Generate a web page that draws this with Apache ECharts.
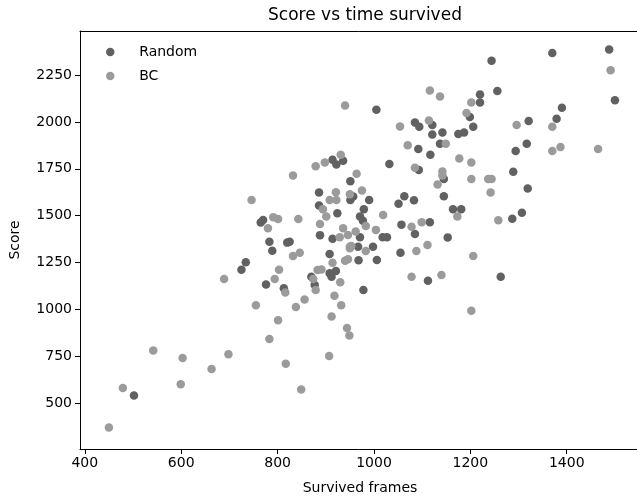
<!DOCTYPE html>
<html>
<head>
    <meta charset="utf-8">
    <title>Score vs time survived</title>
    <script src="https://cdn.jsdelivr.net/npm/echarts@6/dist/echarts.min.js"></script>
    <style>
        body { margin: 0; background: #fff; }
    </style>
</head>
<body>

<div id='scatter' style="width: 637px; height: 500px;"></div>
<script type="text/javascript">
    // [survived frames, score]
    var randomData = [
        [502, 540], [725, 1211], [734, 1251], [776, 1133], [789, 1313], [783, 1361],
        [820, 1356], [825, 1361], [813, 1112], [870, 1174], [877, 1130], [886, 1623],
        [886, 1554], [765, 1463], [770, 1477], [888, 1396], [1005, 2065], [1244, 2326],
        [1370, 2367], [1488, 2386], [1500, 2115], [1256, 2165], [1220, 2146], [1220, 2104],
        [1199, 2026], [1206, 1974], [1187, 1944], [1175, 1935], [1390, 2076], [1379, 2017],
        [1321, 2005], [1317, 1884], [1294, 1845], [1289, 1734], [1319, 1645], [1307, 1515],
        [1287, 1484], [1085, 1997], [1094, 1974], [1121, 1984], [1121, 1933], [1142, 1944],
        [1137, 1884], [1092, 1855], [1117, 1825], [1032, 1775], [1093, 1744], [1145, 1695],
        [1145, 1604], [1164, 1534], [1181, 1534], [1153, 1384], [1116, 1465], [1085, 1402],
        [1057, 1452], [1051, 1564], [1063, 1604], [1083, 1582], [914, 1798], [922, 1773],
        [936, 1793], [951, 1684], [957, 1602], [990, 1584], [951, 1584], [924, 1513],
        [979, 1534], [971, 1495], [977, 1473], [914, 1377], [971, 1385], [1018, 1385],
        [1027, 1385], [998, 1334], [908, 1295], [967, 1334], [968, 1262], [1006, 1263],
        [1055, 1302], [1263, 1174], [1112, 1153], [908, 1192], [921, 1204], [912, 1174],
        [978, 1103]
    ];
    var bcData = [
        [450, 370], [479, 580], [542, 780], [603, 741], [599, 600], [663, 682],
        [698, 760], [689, 1162], [755, 1022], [783, 842], [801, 942], [817, 710],
        [849, 572], [794, 1162], [803, 1211], [816, 1090], [838, 1013], [856, 1053],
        [832, 1285], [846, 1302], [874, 1162], [879, 1103], [883, 1210], [891, 1213],
        [746, 1584], [832, 1714], [879, 1764], [780, 1433], [791, 1491], [801, 1482],
        [843, 1482], [888, 1455], [940, 2087], [1491, 2275], [1116, 2167], [1137, 2135],
        [1202, 2104], [1192, 2048], [1370, 1974], [1296, 1983], [1370, 1845], [1387, 1866],
        [1465, 1855], [1258, 1475], [1242, 1623], [1237, 1695], [1244, 1695], [1202, 1695],
        [1202, 1784], [1177, 1805], [1054, 1976], [1114, 2008], [1149, 1884], [1070, 1875],
        [1085, 1755], [1142, 1735], [1142, 1714], [1132, 1666], [1173, 1495], [1099, 1465],
        [1078, 1441], [1111, 1343], [898, 1784], [931, 1825], [964, 1723], [921, 1625],
        [950, 1614], [975, 1634], [908, 1584], [922, 1584], [894, 1534], [901, 1495],
        [1019, 1504], [983, 1445], [936, 1433], [1004, 1424], [962, 1415], [929, 1385],
        [946, 1397], [950, 1334], [914, 1249], [940, 1259], [946, 1267], [950, 1326],
        [953, 1338], [983, 1311], [1088, 1311], [1206, 1285], [1078, 1174], [1140, 1183],
        [1202, 992], [930, 1144], [918, 1072], [932, 1022], [912, 962], [944, 901],
        [949, 860], [907, 751]
    ];
    var xTicks = [400, 600, 800, 1000, 1200, 1400];
    var yTicks = [500, 750, 1000, 1250, 1500, 1750, 2000, 2250];

    var myChart = echarts.init(document.getElementById('scatter'));
    var font = 'DejaVu Sans';
    var plain = function (v) { return String(v); };
    var option = {
        animation: false,
        title: {
            text: 'Score vs time survived',
            left: 360,
            top: 2,
            textAlign: 'center',
            textStyle: { fontFamily: font, fontSize: 17, fontWeight: 'normal', color: '#000' }
        },
        legend: {
            orient: 'vertical',
            left: 101,
            top: 39,
            itemWidth: 48,
            itemHeight: 8.5,
            itemGap: 8,
            icon: 'circle',
            textStyle: { fontFamily: font, fontSize: 14, color: '#000', lineHeight: 16 },
            data: ['Random', 'BC']
        },
        grid: {
            left: 80, top: 31, width: 560, height: 418,
            outerBoundsMode: 'none'
        },
        xAxis: [{
            type: 'value',
            min: 390, max: 1552,
            name: 'Survived frames',
            nameLocation: 'middle',
            nameGap: 32,
            nameTextStyle: { fontFamily: font, fontSize: 14, color: '#000' },
            axisLine: { show: true, onZero: false, lineStyle: { color: '#000', width: 1 } },
            axisTick: { show: true, length: 5, customValues: xTicks, lineStyle: { color: '#000' } },
            axisLabel: { customValues: xTicks, formatter: plain, margin: 7, fontFamily: font, fontSize: 14, color: '#000' },
            splitLine: { show: false }
        }, {
            // top spine only
            type: 'value',
            position: 'top',
            min: 390, max: 1552,
            axisLine: { show: true, onZero: false, lineStyle: { color: '#000', width: 1 } },
            axisTick: { show: false },
            axisLabel: { show: false },
            splitLine: { show: false }
        }],
        yAxis: {
            type: 'value',
            min: 255, max: 2485,
            name: 'Score',
            nameLocation: 'middle',
            nameRotate: 90,
            nameGap: 58,
            nameTextStyle: { fontFamily: font, fontSize: 14, color: '#000' },
            axisLine: { show: true, onZero: false, lineStyle: { color: '#000', width: 1 } },
            axisTick: { show: true, length: 5, customValues: yTicks, lineStyle: { color: '#000' } },
            axisLabel: { customValues: yTicks, formatter: plain, margin: 8, fontFamily: font, fontSize: 14, color: '#000' },
            splitLine: { show: false }
        },
        series: [
            {
                name: 'Random',
                type: 'scatter',
                symbolSize: 8.5,
                itemStyle: { color: '#616161', opacity: 1 },
                data: randomData
            },
            {
                name: 'BC',
                type: 'scatter',
                symbolSize: 8.5,
                itemStyle: { color: '#9b9b9b', opacity: 1 },
                data: bcData
            }
        ]
    };
    myChart.setOption(option);
</script>
</body>
</html>
